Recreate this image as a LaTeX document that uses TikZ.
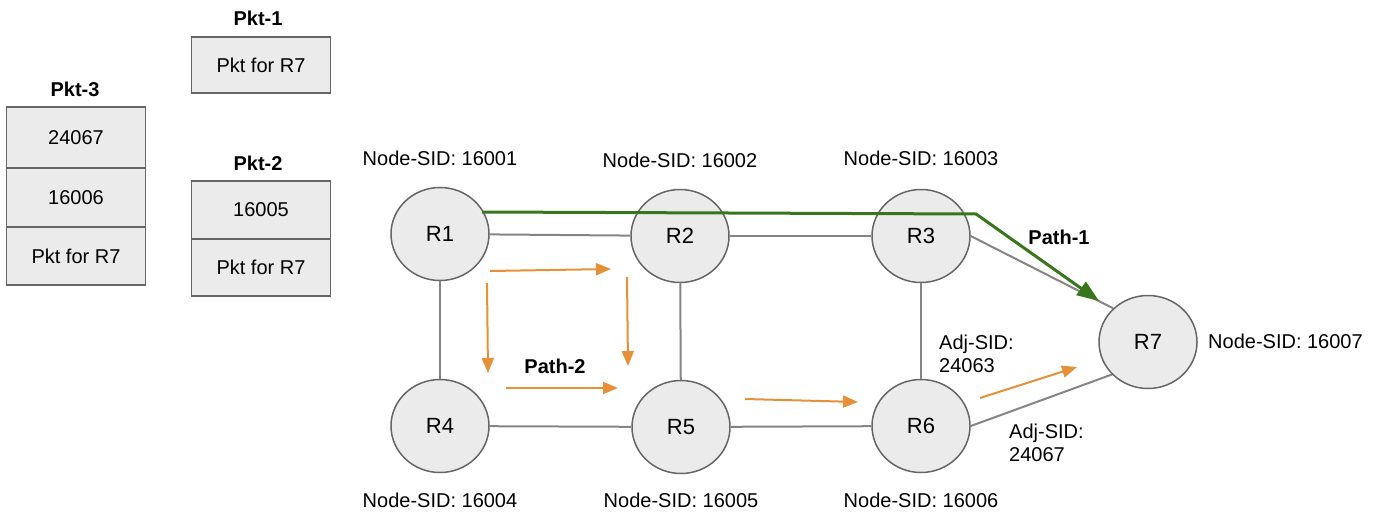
\documentclass[tikz,border=0pt]{standalone}
\usepackage{fontspec}
\setmainfont{Liberation Sans}
\usetikzlibrary{shapes.geometric,arrows.meta}
\definecolor{edgegray}{HTML}{858585}
\definecolor{nodefill}{HTML}{EBEBEB}
\definecolor{nodeline}{HTML}{666666}
\definecolor{pathgreen}{HTML}{38761D}
\definecolor{pathorange}{HTML}{E69138}
\tikzset{
  router/.style={ellipse, draw=nodeline, fill=nodefill, line width=1.5pt, minimum width=98pt, minimum height=93pt, inner sep=0pt, font=\fontsize{22}{26}\selectfont},
  link/.style={draw=edgegray, line width=2pt},
  lbl/.style={font=\fontsize{20}{23}\selectfont, inner sep=0pt},
  boldlbl/.style={font=\fontsize{20}{23}\selectfont\bfseries, inner sep=0pt},
  cell/.style={draw=nodeline, fill=nodefill, line width=1.5pt, minimum width=139pt, inner sep=0pt, font=\fontsize{20}{23}\selectfont},
  orangearrow/.style={draw=pathorange, line width=2pt, -{Triangle[length=15pt,width=12pt]}},
  greenarrow/.style={draw=pathgreen, line width=3pt, -{Triangle[length=22pt,width=16pt]}},
}
\begin{document}
\begin{tikzpicture}[x=1pt,y=-1pt]
\useasboundingbox (0,0) rectangle (1380,519);

% packets
\node[boldlbl] (pkt1lbl) at (258,18) {Pkt-1};
\node[cell, minimum height=56pt] (pkt1a) at (261,65) {Pkt for R7};

\node[boldlbl] (pkt3lbl) at (75,89) {Pkt-3};
\node[cell, minimum height=61pt] (pkt3a) at (76,137.5) {24067};
\node[cell, minimum height=59pt] (pkt3b) at (76,197.5) {16006};
\node[cell, minimum height=58pt] (pkt3c) at (76,256) {Pkt for R7};

\node[boldlbl] (pkt2lbl) at (258,163) {Pkt-2};
\node[cell, minimum height=58pt] (pkt2a) at (261,210) {16005};
\node[cell, minimum height=57pt] (pkt2b) at (261,267.5) {Pkt for R7};

% routers
\node[router] (R1) at (440,234) {R1};
\node[router] (R2) at (680,236) {R2};
\node[router] (R3) at (921,236) {R3};
\node[router] (R4) at (440,426) {R4};
\node[router] (R5) at (681,427) {R5};
\node[router] (R6) at (921,426) {R6};
\node[router] (R7) at (1148,342) {R7};

\draw[link] (R1) -- (R2);
\draw[link] (R2) -- (R3);
\draw[link] (R4) -- (R5);
\draw[link] (R5) -- (R6);
\draw[link] (R1) -- (R4);
\draw[link] (R2) -- (R5);
\draw[link] (R3) -- (R6);
\draw[link] (R3.east) -- (R7.136);
\draw[link] (R6.east) -- (R7.222);

% node SID labels
\node[lbl] (s1) at (440,158) {Node-SID: 16001};
\node[lbl] (s2) at (680,160) {Node-SID: 16002};
\node[lbl] (s3) at (921,158) {Node-SID: 16003};
\node[lbl] (s4) at (440,500) {Node-SID: 16004};
\node[lbl] (s5) at (681,500) {Node-SID: 16005};
\node[lbl] (s6) at (921,500) {Node-SID: 16006};
\node[lbl, anchor=west] (s7) at (1208,341) {Node-SID: 16007};

\node[lbl, anchor=west, align=left] (adj1) at (939,354) {Adj-SID:\\24063};
\node[lbl, anchor=west, align=left] (adj2) at (1009,443) {Adj-SID:\\24067};

% path 1
\coordinate (g1) at (482,212);
\coordinate (g2) at (976,214);
\coordinate (g3) at (1099,301);
\draw[greenarrow] (g1) -- (g2) -- (g3);
\node[boldlbl] (p1) at (1059,237) {Path-1};

% path 2
\coordinate (o1a) at (490,271); \coordinate (o1b) at (611,269);
\coordinate (o2a) at (487,283); \coordinate (o2b) at (488,373);
\coordinate (o3a) at (627,277); \coordinate (o3b) at (628,366);
\coordinate (o4a) at (506,388); \coordinate (o4b) at (618,388);
\coordinate (o5a) at (745,399); \coordinate (o5b) at (858,402);
\coordinate (o6a) at (980,398); \coordinate (o6b) at (1077,367);
\draw[orangearrow] (o1a) -- (o1b);
\draw[orangearrow] (o2a) -- (o2b);
\draw[orangearrow] (o3a) -- (o3b);
\draw[orangearrow] (o4a) -- (o4b);
\draw[orangearrow] (o5a) -- (o5b);
\draw[orangearrow] (o6a) -- (o6b);
\node[boldlbl] (p2) at (555,366) {Path-2};
\end{tikzpicture}
\end{document}
